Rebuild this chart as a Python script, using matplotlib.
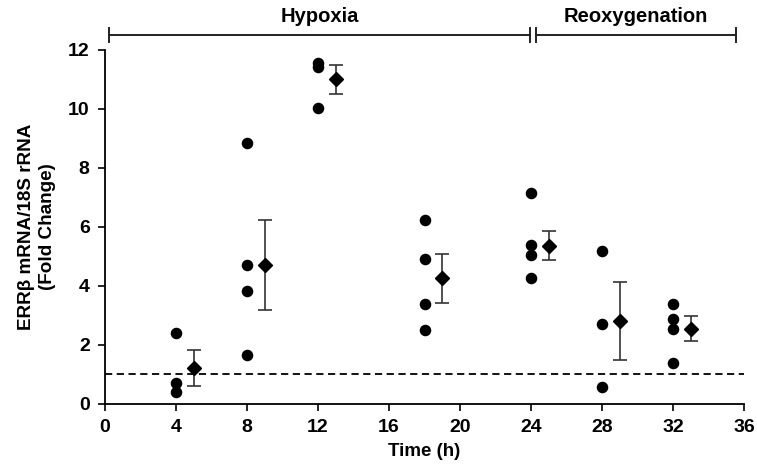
import matplotlib
matplotlib.use("Agg")
import matplotlib.pyplot as plt
import numpy as np

plt.rcParams['font.family'] = ['Liberation Sans', 'DejaVu Sans']
plt.rcParams['font.weight'] = 'bold'

# Individual replicate values per time point (h)
times = [4, 8, 12, 18, 24, 28, 32]
replicates = [
    [2.40, 0.72, 0.42],
    [8.84, 4.70, 3.83, 1.66],
    [11.55, 11.41, 10.02],
    [6.24, 4.93, 3.40, 2.50],
    [7.14, 5.39, 5.04, 4.26],
    [5.18, 2.72, 0.59],
    [3.38, 2.87, 2.54, 1.40],
]
# Means and error (SEM) shown as diamonds, offset +1 h
mean_vals = [1.21, 4.72, 11.00, 4.26, 5.37, 2.82, 2.55]
err_vals = [0.61, 1.52, 0.48, 0.83, 0.48, 1.33, 0.42]
mean_offset = 1.0
baseline = 1.0

xticks = [0, 4, 8, 12, 16, 20, 24, 28, 32, 36]
yticks = [0, 2, 4, 6, 8, 10, 12]
phases = ["Hypoxia", "Reoxygenation"]
phase_spans = [(0.2, 23.95), (24.25, 35.55)]

fig = plt.figure(figsize=(7.57, 4.73), dpi=100)
ax = fig.add_axes([0.1387, 0.1459, 0.983 - 0.1387, 0.8943 - 0.1459])

for t, vals in zip(times, replicates):
    ax.plot([t] * len(vals), vals, 'o', color='black', ms=7.3, zorder=3, clip_on=False)

mx = [t + mean_offset for t in times]
ax.errorbar(mx, mean_vals, yerr=err_vals, fmt='D', color='black', ms=7.3,
            ecolor='#333333', elinewidth=1.2, capsize=5, capthick=1.2, zorder=4)

ax.axhline(baseline, color='black', ls=(0, (4, 2.5)), lw=1.3, zorder=1)

ax.set_xlim(0, 36)
ax.set_ylim(0, 12)
ax.set_xticks(xticks)
ax.set_yticks(yticks)
ax.tick_params(direction='out', length=5, width=1.2, labelsize=14, pad=6)
for lab in ax.get_xticklabels() + ax.get_yticklabels():
    lab.set_fontweight('bold')
ax.spines['top'].set_visible(False)
ax.spines['right'].set_visible(False)
ax.spines['left'].set_linewidth(1.3)
ax.spines['bottom'].set_linewidth(1.3)

ax.set_xlabel("Time (h)", fontsize=13.5, fontweight='bold', labelpad=5)
ax.set_ylabel("ERRβ mRNA/18S rRNA\n(Fold Change)", fontsize=13.6, fontweight='bold',
              labelpad=9, linespacing=1.25)

ybar = 12.51
for name, (x0, x1) in zip(phases, phase_spans):
    ax.plot([x0, x1], [ybar, ybar], color='#222222', lw=1.4, clip_on=False)
    for xe in (x0, x1):
        ax.plot([xe, xe], [ybar - 0.23, ybar + 0.23], color='#222222', lw=1.4, clip_on=False)
    ax.text((x0 + x1) / 2, ybar + 0.3, name, ha='center', va='bottom',
            fontsize=14.5, fontweight='bold')

fig.savefig("out.png", dpi=100)
